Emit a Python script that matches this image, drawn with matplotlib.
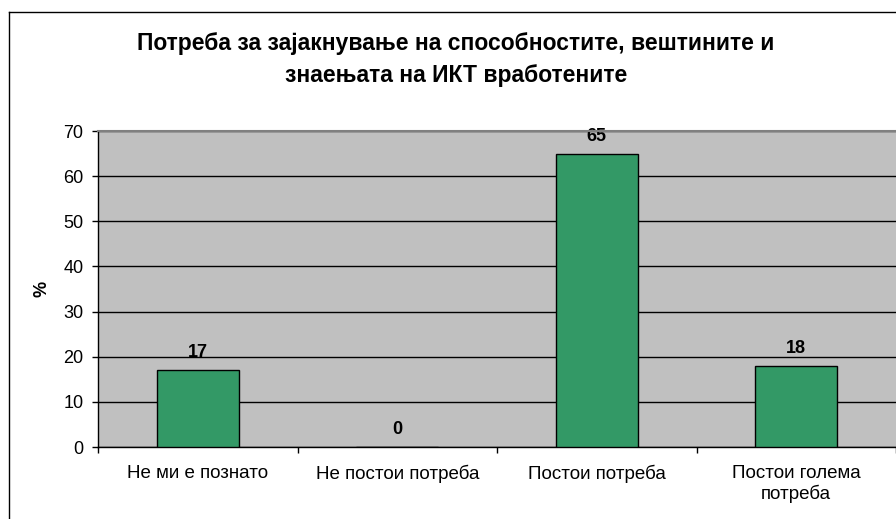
import matplotlib.pyplot as plt
from matplotlib.lines import Line2D

# Data
categories = ["Не ми е познато", "Не постои потреба", "Постои потреба", "Постои голема\nпотреба"]
values = [17, 0, 65, 18]
title = "Потреба за зајакнување на способностите, вештините и\nзнаењата на ИКТ вработените"

plt.rcParams["font.family"] = ["Liberation Sans", "DejaVu Sans"]

fig = plt.figure(figsize=(8.96, 5.19), dpi=100)
ax = fig.add_axes([98 / 896, 1 - 447 / 519, 798 / 896, 316 / 519])

x = range(len(categories))
bars = ax.bar(x, values, width=0.41, color="#339966", edgecolor="black", linewidth=1, zorder=3)

for bar, v in zip(bars, values):
    ax.annotate(f"{v}", (bar.get_x() + bar.get_width() / 2, bar.get_height()),
                xytext=(0, 6.5), textcoords="offset points", ha="center", va="bottom",
                fontsize=13, fontweight="bold", zorder=4)

ax.set_facecolor("#C0C0C0")
ax.set_xlim(-0.5, 3.5)
ax.set_ylim(0, 70)
ax.set_yticks(range(0, 71, 10))
ax.yaxis.grid(True, color="black", linewidth=1)
ax.set_axisbelow(True)

ax.set_xticks(list(x))
ax.set_xticklabels(categories, fontsize=13.5)
ax.set_xticks([-0.5, 0.5, 1.5, 2.5, 3.5], minor=True)
ax.tick_params(axis="x", which="major", length=0, pad=13)
ax.tick_params(axis="x", which="minor", length=4.5, width=1, direction="out")
ax.tick_params(axis="y", length=4.5, width=1, direction="out", labelsize=13, pad=6)

ax.spines["right"].set_visible(False)
ax.spines["top"].set_color("#808080")
ax.spines["top"].set_linewidth(1.5)
ax.spines["top"].set_zorder(5)
for s in ["left", "bottom"]:
    ax.spines[s].set_linewidth(1)

ax.set_ylabel("%", fontsize=13, fontweight="bold", labelpad=9)

fig.text(456 / 896, 1 - 60 / 519, title, ha="center", va="center",
         fontsize=16.5, fontweight="bold", linespacing=1.5)

# chart area border
fig.add_artist(Line2D([8.5 / 896, 8.5 / 896], [0, 1 - 11.5 / 519], color="black", linewidth=1))
fig.add_artist(Line2D([8.5 / 896, 1], [1 - 11.5 / 519, 1 - 11.5 / 519], color="black", linewidth=1))

fig.savefig("out.png", dpi=100)
